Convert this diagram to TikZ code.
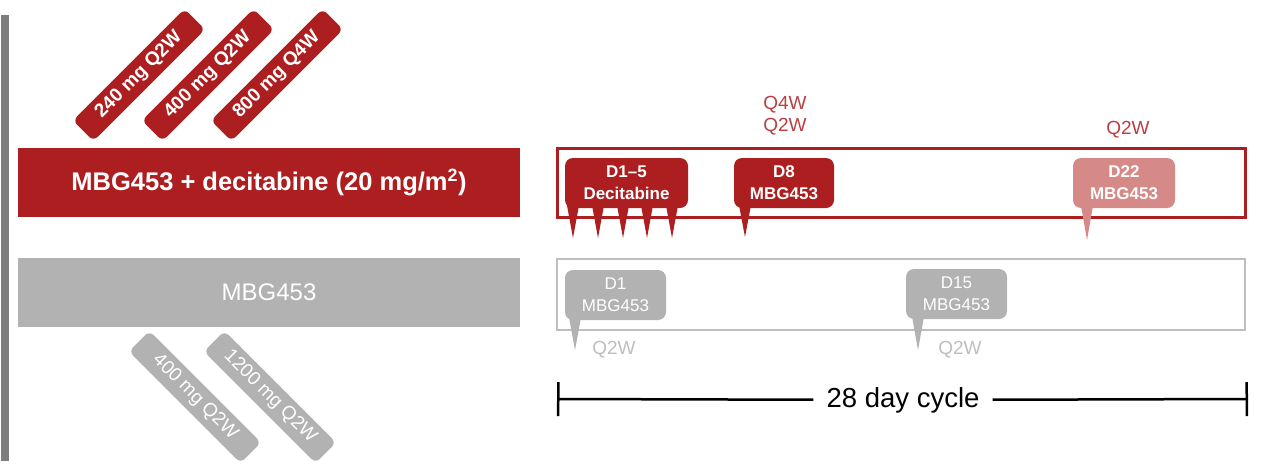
\documentclass[tikz,border=0pt]{standalone}
\usepackage{fontspec}
\setmainfont{Liberation Sans}
\usepackage{xcolor}
\usetikzlibrary{arrows.meta, positioning, calc}

\definecolor{armred}{RGB}{172,30,32}
\definecolor{lightred}{RGB}{214,138,136}
\definecolor{armgray}{RGB}{178,178,178}
\definecolor{linegray}{RGB}{190,190,190}
\definecolor{sidegray}{RGB}{125,125,125}

\begin{document}
\begin{tikzpicture}[x=1pt, y=-1pt,
    armbar/.style={minimum width=502pt, minimum height=69pt, inner sep=0pt, text=white},
    redtag/.style={fill=armred, rotate=45, minimum width=158pt, minimum height=29pt, inner sep=0pt,
      rounded corners=6pt, text=white, font=\fontsize{19}{22}\selectfont\bfseries},
    graytag/.style={fill=armgray, rotate=-45, minimum width=158pt, minimum height=29pt, inner sep=0pt,
      rounded corners=6pt, text=white, font=\fontsize{19}{22}\selectfont},
    callout/.style={minimum width=#1, minimum height=50pt, inner sep=0pt, rounded corners=8pt,
      text=white, align=center},
    freq/.style={align=center, font=\fontsize{19}{22}\selectfont}]
      \useasboundingbox (0,0) rectangle (1261,466);

      % side bar and the two arms
      \fill[sidegray] (1,15) rectangle (9,461);
      \node[armbar, fill=armred, font=\fontsize{25.5}{28}\selectfont\bfseries] (combo) at (269,182.5)
        {MBG453 + decitabine (20 mg/m\textsuperscript{2})};
      \node[armbar, fill=armgray, font=\fontsize{24}{28}\selectfont] (mono) at (269,292.5) {MBG453};

      % dose levels
      \node[redtag] (t240) at (139,75) {240 mg Q2W};
      \node[redtag] (t400) at (208,75) {400 mg Q2W};
      \node[redtag] (t800) at (277,75) {800 mg Q4W};
      \node[graytag] (g400) at (195,397) {400 mg Q2W};
      \node[graytag] (g1200) at (270,397) {1200 mg Q2W};

      % cycle boxes
      \draw[armred, line width=3pt] (557,148) rectangle (1245,217);
      \draw[linegray, line width=2.5pt] (557,259) rectangle (1245,330);

      % red arm callouts
      \foreach \sx in {573,598,623,647,672}
        \fill[armred] (\sx-7,200) -- (\sx+7,200) -- (\sx,238) -- cycle;
      \node[callout=123pt, fill=armred, font=\fontsize{17}{22}\selectfont\bfseries] (dec) at (626.5,183)
        {D1--5\\Decitabine};
      \fill[armred] (738,200) -- (752,200) -- (745,237) -- cycle;
      \node[callout=100pt, fill=armred, font=\fontsize{17}{22}\selectfont\bfseries] (d8) at (784,183)
        {D8\\MBG453};
      \fill[lightred] (1080,200) -- (1094,200) -- (1087,240) -- cycle;
      \node[callout=102pt, fill=lightred, font=\fontsize{17}{22}\selectfont\bfseries] (d22) at (1124,183)
        {D22\\MBG453};
      \node[freq, text=armred!85] (q8) at (785,116) {Q4W\\Q2W};
      \node[freq, text=armred!85] (q22) at (1128,130) {Q2W};

      % gray arm callouts
      \fill[armgray] (568,312) -- (582,312) -- (575,350) -- cycle;
      \node[callout=101pt, fill=armgray, font=\fontsize{17}{22}\selectfont] (d1) at (615.5,295)
        {D1\\MBG453};
      \fill[armgray] (911,311) -- (925,311) -- (918,350) -- cycle;
      \node[callout=101pt, fill=armgray, font=\fontsize{17}{22}\selectfont] (d15) at (956.5,294)
        {D15\\MBG453};
      \node[freq, text=linegray] (q1) at (614,350) {Q2W};
      \node[freq, text=linegray] (q15) at (960,350) {Q2W};

      % cycle length
      \coordinate (cycL) at (557,399);
      \coordinate (cycR) at (1248,399);
      \node[inner xsep=13pt, font=\fontsize{27.5}{30}\selectfont] (cyc) at (903,400) {28 day cycle};
      \draw[line width=2.5pt, {Bar[width=34pt]}-] (cycL) -- (cyc);
      \draw[line width=2.5pt, -{Bar[width=34pt]}] (cyc) -- (cycR);
    \end{tikzpicture}
\end{document}
